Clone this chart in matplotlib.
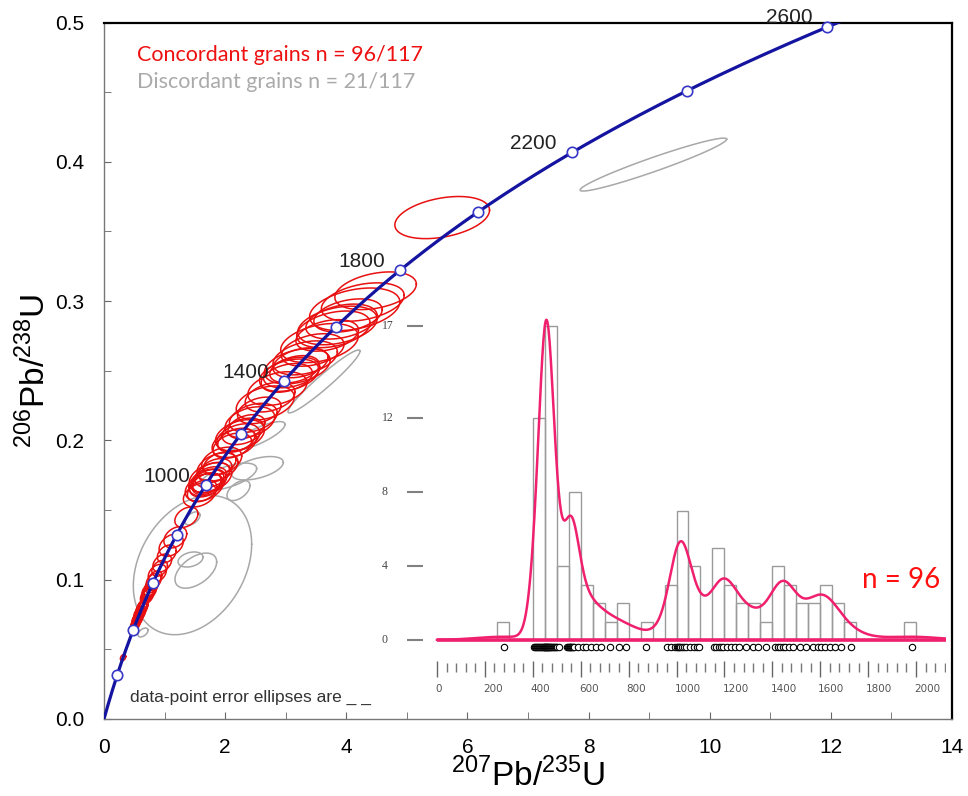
import numpy as np
import matplotlib
matplotlib.use('Agg')
import matplotlib.pyplot as plt

plt.rcParams['font.family'] = ['Liberation Sans', 'DejaVu Sans']
plt.rcParams['mathtext.fontset'] = 'custom'
plt.rcParams['mathtext.rm'] = 'Liberation Sans'

# decay constants (1/yr) used for the concordia curve
L238 = 1.55125e-10
L235 = 9.8485e-10

marker_ages = [200, 400, 600, 800, 1000, 1200, 1400, 1600, 1800, 2000, 2200, 2400, 2600]
label_ages = [1000, 1400, 1800, 2200, 2600]

# concordant grains: age (Ma), 2s errors in % on 207/235 and 206/238
ages = [278,
        403, 409, 414, 419, 423, 427, 431, 435, 439, 442, 445, 448,
        450, 452, 454, 456, 458, 460, 462, 464, 467, 470, 473, 476, 480, 484, 488, 493, 498,
        503, 508, 543, 548,
        551, 554, 557, 560, 563, 567, 574, 588,
        608, 622, 641, 662, 684, 722, 758, 790, 872,
        962, 978, 992, 1001, 1006, 1011, 1016, 1022, 1030, 1041, 1058, 1072, 1085, 1096,
        1155, 1165, 1176, 1186, 1195, 1210, 1228, 1245, 1262, 1290, 1318, 1340, 1372,
        1412, 1422, 1432, 1444, 1455, 1468, 1486, 1515, 1540, 1568, 1590, 1604, 1618, 1640,
        1662, 1688, 1728,
        1982]
err_x = [14,
         12, 14, 11, 13, 15, 12, 14, 11, 13, 16, 12, 14,
         13, 11, 14, 12, 15, 13, 11, 14, 12, 16, 13, 11, 14, 12, 15, 13, 14,
         14, 12, 15, 13,
         13, 15, 12, 14, 11, 16, 13, 14,
         15, 13, 17, 14, 16, 15, 18, 16, 14,
         17, 15, 19, 16, 14, 18, 15, 17, 20, 16, 15, 18, 14, 17,
         15, 17, 14, 16, 18, 15, 13, 17, 16, 14, 18, 15, 17,
         14, 16, 15, 13, 17, 14, 16, 15, 18, 14, 16, 17, 15,
         14, 18, 16, 15,
         14]
err_y = [5.0,
         4.8, 5.3, 4.3, 5.0, 5.8, 4.6, 5.4, 4.4, 5.2, 6.0, 4.7, 5.1,
         4.9, 4.4, 5.6, 4.7, 5.8, 5.0, 4.3, 5.4, 4.8, 6.1, 5.2, 4.5, 5.3, 4.6, 5.9, 5.0, 5.5,
         5.3, 4.7, 5.8, 5.0,
         5.1, 5.8, 4.6, 5.4, 4.4, 6.0, 4.9, 5.2,
         5.6, 4.8, 6.2, 5.2, 5.8, 5.4, 6.4, 5.8, 5.0,
         5.4, 4.8, 6.0, 5.1, 4.6, 5.7, 4.9, 5.4, 6.2, 5.1, 4.8, 5.6, 4.5, 5.3,
         4.6, 5.2, 4.3, 4.9, 5.5, 4.6, 4.1, 5.2, 4.8, 4.3, 5.4, 4.6, 5.1,
         4.2, 4.7, 4.4, 3.9, 5.0, 4.2, 4.7, 4.4, 5.2, 4.1, 4.7, 4.9, 4.4,
         4.1, 5.2, 4.6, 4.4,
         4.2]
rho_conc = 0.35
# grains whose 207/235 ratio sits off the concordia (% shift)
shift_ages = [1982]
shift_pct = [-7.6]

# discordant grains (visible ones): ratios, 2s half-extents, correlation
disc_x = [9.07, 1.461, 3.632, 2.548, 2.534, 2.052, 1.516, 1.428, 1.461, 0.644, 2.22]
disc_y = [0.398, 0.1105, 0.2423, 0.2033, 0.180, 0.174, 0.1065, 0.1145, 0.144, 0.0621, 0.164]
disc_sx = [1.21, 0.977, 0.594, 0.44, 0.426, 0.468, 0.344, 0.206, 0.124, 0.083, 0.19]
disc_sy = [0.019, 0.050, 0.0226, 0.0102, 0.0084, 0.0097, 0.0126, 0.0054, 0.0047, 0.0032, 0.0072]
disc_rho = [0.96, 0.3, 0.96, 0.8, 0.5, 0.6, 0.5, 0.3, 0.5, 0.5, 0.5]

hist_ticks = [0, 4, 8, 12, 17]
bin_width = 50


def concordia(t_ma):
    t = np.asarray(t_ma, dtype=float) * 1e6
    return np.exp(L235 * t) - 1, np.exp(L238 * t) - 1


def ellipse(cx, cy, sx, sy, rho, n=90):
    a = np.linspace(0, 2 * np.pi, n)
    x = cx + sx * np.cos(a)
    y = cy + sy * (rho * np.cos(a) + np.sqrt(1 - rho ** 2) * np.sin(a))
    return x, y


def gauss_sum(grid, pts, bw):
    z = (grid[:, None] - pts[None, :]) / bw[None, :]
    return (np.exp(-0.5 * z ** 2) / (np.sqrt(2 * np.pi) * bw[None, :])).sum(axis=1) / len(pts)


fig = plt.figure(figsize=(9.68, 7.96), dpi=100)
ax = fig.add_axes([104 / 968, 77 / 796, 848 / 968, 696.5 / 796])

# discordant ellipses
for cx, cy, sx, sy, r in zip(disc_x, disc_y, disc_sx, disc_sy, disc_rho):
    ex, ey = ellipse(cx, cy, sx, sy, r)
    ax.plot(ex, ey, color='#a8a8a8', lw=1.1, zorder=2)

# concordant ellipses
cx_all, cy_all = concordia(ages)
for a, p in zip(shift_ages, shift_pct):
    cx_all[ages.index(a)] *= 1 + p / 100
for cx, cy, px, py in zip(cx_all, cy_all, err_x, err_y):
    ex, ey = ellipse(cx, cy, cx * px / 100, cy * py / 100, rho_conc)
    ax.plot(ex, ey, color='#e81010', lw=1.1, zorder=3)

# concordia curve
tc = np.linspace(0, 2700, 500)
xc, yc = concordia(tc)
ax.plot(xc, yc, color='#1414a0', lw=2.3, zorder=4)
mx, my = concordia(marker_ages)
ax.plot(mx, my, 'o', ms=7.5, mfc='white', mec='#3838c8', mew=1.2, zorder=5, clip_on=False)
lx, ly = concordia(label_ages)
for a, x, y in zip(label_ages, lx, ly):
    ax.annotate(str(a), (x, y), xytext=(-11, 2.5), textcoords='offset points',
                ha='right', va='baseline', fontsize=15, color='#222222', zorder=6)

ax.set_xlim(0, 14)
ax.set_ylim(0, 0.5)
ax.set_xticks(np.arange(0, 15, 2))
ax.set_xticks(np.arange(0, 15, 1), minor=True)
ax.set_yticks(np.arange(0, 0.51, 0.1))
ax.set_yticks(np.arange(0, 0.51, 0.05), minor=True)
ax.yaxis.set_major_formatter(plt.FormatStrFormatter('%.1f'))
ax.tick_params(which='both', direction='in', length=5, color='#666666', labelsize=15, pad=14)
for s in ['left', 'bottom']:
    ax.spines[s].set_color('#777777')
    ax.spines[s].set_linewidth(1.0)
for s in ['top', 'right']:
    ax.spines[s].set_color('black')
    ax.spines[s].set_linewidth(1.6)
ax.set_xlabel(r'$^{207}$Pb/$^{235}$U', fontsize=24, labelpad=0)
ax.set_ylabel(r'$^{206}$Pb/$^{238}$U', fontsize=24, labelpad=2)

ax.text(0.039, 0.9447, 'Concordant grains n = 96/117', transform=ax.transAxes,
        color='#ee1111', fontsize=15.5, family='Lato', va='baseline')
ax.text(0.039, 0.906, 'Discordant grains n = 21/117', transform=ax.transAxes,
        color='#aaaaaa', fontsize=15.5, family='Lato', va='baseline')
ax.text(0.031, 0.025, 'data-point error ellipses are _ _', transform=ax.transAxes,
        color='#333333', fontsize=12.5, va='baseline')

# inset: histogram + density of concordant ages
px_ma = 0.2395      # pixels per Ma
px_cnt = 18.5       # pixels per count
x0_px, y0_px = 437, 640
left_px, right_px, top_px, bot_px = 370, 946, 300, 700
axi = fig.add_axes([left_px / 968, (796 - bot_px) / 796,
                    (right_px - left_px) / 968, (bot_px - top_px) / 796])
axi.set_facecolor('none')
axi.set_xlim(-(x0_px - left_px) / px_ma, (right_px - x0_px) / px_ma)
axi.set_ylim(-(bot_px - y0_px) / px_cnt, (y0_px - top_px) / px_cnt)
for s in axi.spines.values():
    s.set_visible(False)
axi.set_xticks([])
axi.set_yticks([])

ages_arr = np.array(ages, dtype=float)
axi.hist(ages_arr, bins=np.arange(0, 2101, bin_width), fill=False,
         edgecolor='#9a9a9a', lw=1.0, zorder=2)

# adaptive gaussian density, scaled to counts per bin
grid = np.linspace(0, axi.get_xlim()[1], 900)
h0 = 38.5
pilot = gauss_sum(ages_arr, ages_arr, np.full(len(ages_arr), h0))
g = np.exp(np.mean(np.log(pilot)))
bw = h0 * np.sqrt(g / pilot)
dens = gauss_sum(grid, ages_arr, bw) * len(ages_arr) * bin_width
pink = '#f0206e'
axi.hlines(0, grid[0], grid[-1], color=pink, lw=2.6, zorder=3)
axi.plot(grid, dens, color=pink, lw=1.8, zorder=4)

# rug of single ages
axi.plot(ages_arr, np.full(len(ages_arr), -7 / px_cnt), 'o', ms=4.6, mfc='white',
         mec='black', mew=0.8, clip_on=False, zorder=5)

# ruler below the rug
maj = np.arange(0, 2001, 200)
mnr = [v for v in np.arange(0, 2121, 40) if v % 200]
axi.vlines(maj, -37 / px_cnt, -21 / px_cnt, color='#666666', lw=1.0)
axi.vlines(mnr, -32 / px_cnt, -23 / px_cnt, color='#777777', lw=1.0)
for v in maj:
    axi.text(v - 8, -49 / px_cnt, str(v), fontsize=7.5, color='#555555',
             family='DejaVu Sans', ha='left', va='center')

# count ticks on the left
tx0 = -(x0_px - 407) / px_ma
tx1 = -(x0_px - 423) / px_ma
axi.hlines(hist_ticks, tx0, tx1, color='#808080', lw=1.5, clip_on=False)
for v in hist_ticks:
    axi.text(-(x0_px - 382) / px_ma, v, str(v), fontsize=8.5, color='#444444',
             family='Liberation Serif', ha='left', va='center')

axi.text((901 - x0_px) / px_ma, (y0_px - 580) / px_cnt, 'n = 96', color='#ff1010',
         fontsize=20, family='Lato', ha='center', va='center')

fig.savefig('out.png', dpi=100)
